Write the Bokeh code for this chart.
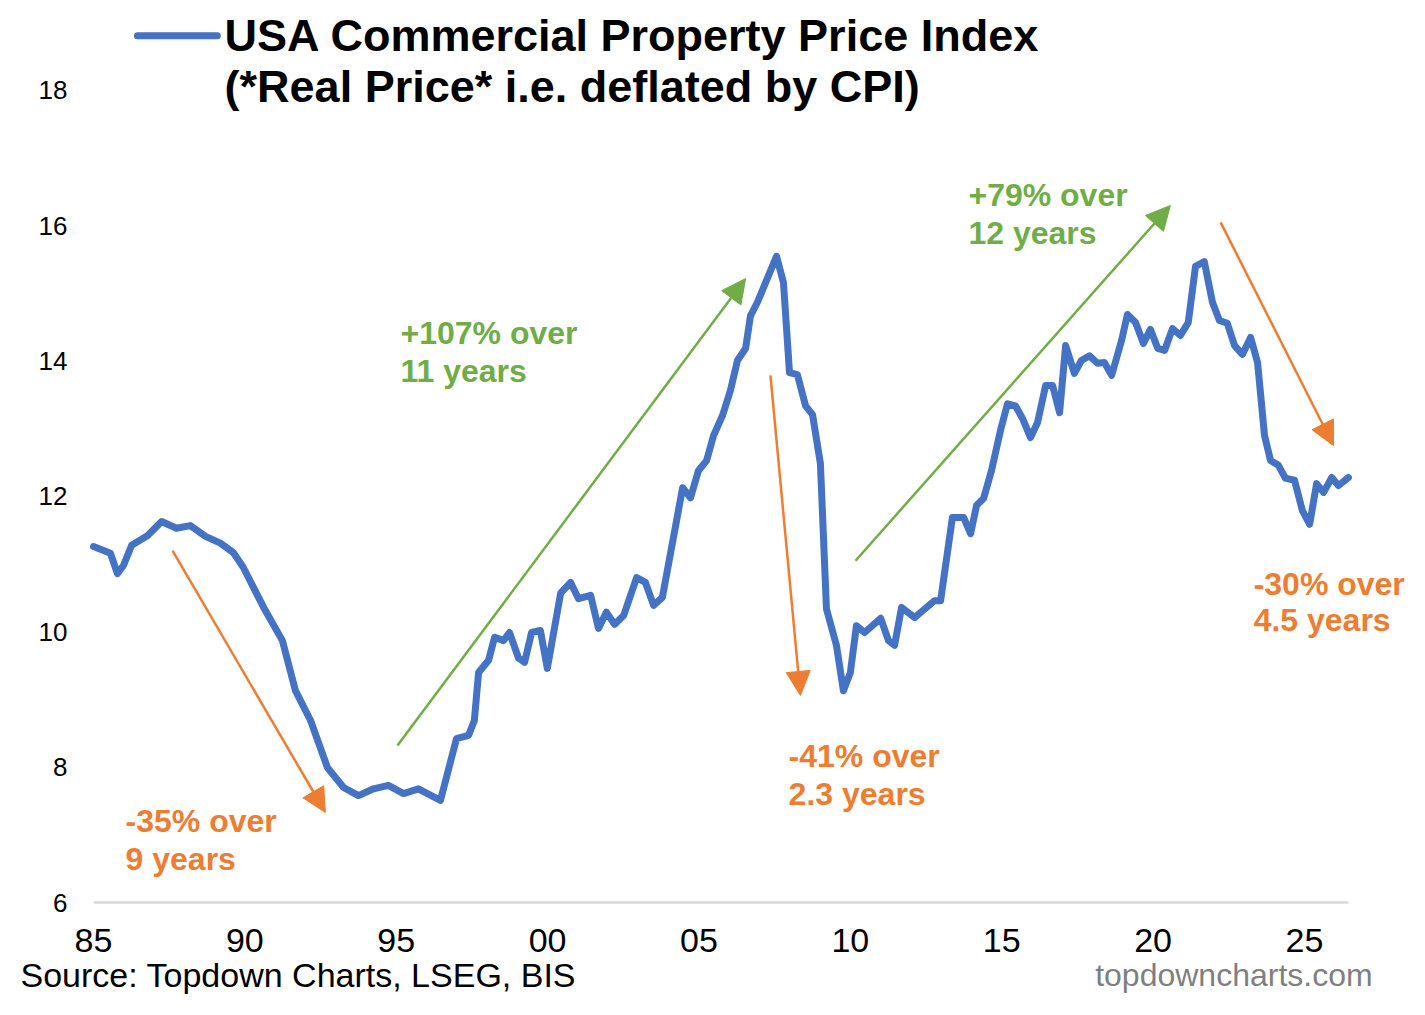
from bokeh.plotting import figure
from bokeh.models import (Range1d, FixedTicker, Label, Arrow, NormalHead, ColumnDataSource)
from bokeh.embed import file_html
from bokeh.resources import INLINE

# ---------------- data ----------------
years = [1985.00, 1985.56, 1985.79, 1985.99, 1986.26, 1986.78, 1987.25, 1987.74, 1988.20, 1988.70,
         1989.19, 1989.62, 1989.95, 1990.62, 1991.24, 1991.67, 1992.17, 1992.73, 1993.26, 1993.75,
         1994.25, 1994.74, 1995.24, 1995.73, 1996.46, 1996.99, 1997.39, 1997.58, 1997.72, 1998.05,
         1998.25, 1998.54, 1998.74, 1999.04, 1999.24, 1999.47, 1999.76, 1999.99, 2000.43, 2000.76,
         2001.02, 2001.42, 2001.68, 2001.94, 2002.21, 2002.51, 2002.94, 2003.23, 2003.50, 2003.79,
         2004.46, 2004.72, 2004.98, 2005.25, 2005.48, 2005.78, 2006.04, 2006.27, 2006.54, 2006.70,
         2006.93, 2007.56, 2007.79, 2007.99, 2008.25, 2008.52, 2008.75, 2009.01, 2009.21, 2009.54,
         2009.77, 2010.00, 2010.20, 2010.47, 2011.00, 2011.26, 2011.46, 2011.69, 2012.12, 2012.78,
         2012.98, 2013.37, 2013.74, 2013.97, 2014.17, 2014.40, 2014.66, 2014.96, 2015.19, 2015.45,
         2015.69, 2015.95, 2016.18, 2016.45, 2016.68, 2016.91, 2017.11, 2017.40, 2017.63, 2017.90,
         2018.16, 2018.39, 2018.63, 2018.96, 2019.15, 2019.42, 2019.68, 2019.91, 2020.15, 2020.38,
         2020.64, 2020.90, 2021.16, 2021.40, 2021.69, 2021.96, 2022.19, 2022.45, 2022.69, 2022.95,
         2023.22, 2023.45, 2023.68, 2023.88, 2024.14, 2024.37, 2024.67, 2024.93, 2025.17, 2025.40,
         2025.63, 2025.90, 2026.12, 2026.45]
real_price = [11.26, 11.16, 10.86, 10.98, 11.28, 11.42, 11.63, 11.53, 11.57, 11.41,
              11.31, 11.17, 10.95, 10.36, 9.87, 9.13, 8.69, 7.99, 7.70, 7.58,
              7.68, 7.73, 7.61, 7.68, 7.51, 8.42, 8.47, 8.69, 9.40, 9.58,
              9.92, 9.87, 9.99, 9.61, 9.55, 9.99, 10.02, 9.46, 10.57, 10.73,
              10.49, 10.54, 10.05, 10.29, 10.11, 10.24, 10.80, 10.73, 10.39, 10.51,
              12.13, 11.98, 12.38, 12.53, 12.90, 13.20, 13.57, 14.01, 14.19, 14.67,
              14.87, 15.55, 15.16, 13.83, 13.80, 13.34, 13.21, 12.49, 10.34, 9.80,
              9.13, 9.40, 10.09, 9.99, 10.20, 9.87, 9.80, 10.36, 10.21, 10.46,
              10.46, 11.69, 11.69, 11.45, 11.87, 11.97, 12.38, 12.98, 13.37, 13.34,
              13.15, 12.87, 13.09, 13.64, 13.64, 13.24, 14.23, 13.82, 14.01, 14.08,
              13.97, 13.98, 13.79, 14.31, 14.69, 14.57, 14.26, 14.47, 14.19, 14.16,
              14.48, 14.38, 14.57, 15.40, 15.47, 14.87, 14.60, 14.56, 14.23, 14.10,
              14.35, 13.98, 12.90, 12.53, 12.46, 12.27, 12.24, 11.79, 11.59, 12.19,
              12.06, 12.28, 12.16, 12.28]

x_tick_years = [1985, 1990, 1995, 2000, 2005, 2010, 2015, 2020, 2025]
x_tick_labels = ["85", "90", "95", "00", "05", "10", "15", "20", "25"]
y_ticks = [6, 8, 10, 12, 14, 16, 18]

title_line1 = "USA Commercial Property Price Index"
title_line2 = "(*Real Price* i.e. deflated by CPI)"
source_text = "Source: Topdown Charts, LSEG, BIS"
site_text = "topdowncharts.com"

ORANGE = "#ED7D31"
GREEN = "#70AD47"
BLUE = "#4472C4"
# annotations: (line1, line2, colour, text x, text y1, text y2, arrow x0, y0, x1, y1)
annotations = [
    ("-35% over", "9 years", ORANGE, 1986.06, 7.21, 6.65, 1987.61, 11.20, 1992.66, 7.33),
    ("+107% over", "11 years", GREEN, 1995.14, 14.41, 13.85, 1995.04, 8.32, 2006.54, 15.22),
    ("-41% over", "2.3 years", ORANGE, 2007.96, 8.16, 7.61, 2007.36, 13.79, 2008.35, 9.06),
    ("+79% over", "12 years", GREEN, 2013.90, 16.45, 15.89, 2010.17, 11.05, 2020.57, 16.30),
    ("-30% over", "4.5 years", ORANGE, 2023.32, 10.71, 10.17, 2022.23, 16.05, 2025.96, 12.75),
]

FONT = "Liberation Sans"

# ---------------- geometry ----------------
W, H = 1409, 999
X0_PX, Y0_PX = 93, 902          # pixel position of (1985, 6)
PX_PER_YEAR = 30.275
PX_PER_UNIT = 67.67

x_start = x_tick_years[0] - X0_PX / PX_PER_YEAR
x_end = x_tick_years[0] + (W - X0_PX) / PX_PER_YEAR
y_start = y_ticks[0] - (H - Y0_PX) / PX_PER_UNIT
y_end = y_ticks[0] + Y0_PX / PX_PER_UNIT

p = figure(width=W, height=H, output_backend="svg", toolbar_location=None,
           x_range=Range1d(x_start, x_end), y_range=Range1d(y_start, y_end),
           min_border_left=0, min_border_right=0, min_border_top=0, min_border_bottom=0)
p.outline_line_color = None
p.xgrid.visible = False
p.ygrid.visible = False
p.background_fill_color = "white"
p.border_fill_color = "white"

# x axis, fixed at y = 6 (axis line drawn separately so it stops with the data)
xa = p.xaxis[0]
xa.fixed_location = y_ticks[0]
xa.ticker = FixedTicker(ticks=x_tick_years)
xa.major_label_overrides = {y: l for y, l in zip(x_tick_years, x_tick_labels)}
xa.axis_line_color = None
xa.major_tick_line_color = None
xa.minor_tick_line_color = None
xa.major_tick_out = 0
xa.major_tick_in = 0
xa.major_label_standoff = 26
xa.major_label_text_font = FONT
xa.major_label_text_font_size = "34px"
xa.major_label_text_color = "#000000"

# y axis, fixed at x = 1985
ya = p.yaxis[0]
ya.fixed_location = x_tick_years[0]
ya.ticker = FixedTicker(ticks=y_ticks)
ya.axis_line_color = None
ya.major_tick_line_color = None
ya.minor_tick_line_color = None
ya.major_tick_out = 0
ya.major_tick_in = 0
ya.major_label_standoff = 26
ya.major_label_text_font = FONT
ya.major_label_text_font_size = "26px"
ya.major_label_text_color = "#000000"

# baseline (horizontal axis line) spanning the data
p.line([years[0], years[-1]], [y_ticks[0], y_ticks[0]], line_color="#D9D9D9", line_width=2.5)

# main line
src = ColumnDataSource(dict(x=years, y=real_price))
p.line("x", "y", source=src, line_color=BLUE, line_width=7, line_join="round", line_cap="round")

# legend swatch + title
p.line([1986.45, 1989.09], [18.81, 18.81], line_color=BLUE, line_width=7, line_cap="round")
for txt, yy in [(title_line1, 18.81), (title_line2, 18.06)]:
    p.add_layout(Label(x=1989.33, y=yy, text=txt, text_font=FONT, text_font_size="45px",
                       text_font_style="bold", text_color="#000000",
                       text_align="left", text_baseline="middle"))

# annotations
for l1, l2, col, tx, ty1, ty2, ax0, ay0, ax1, ay1 in annotations:
    p.add_layout(Arrow(x_start=ax0, y_start=ay0, x_end=ax1, y_end=ay1,
                       line_color=col, line_width=2.5,
                       end=NormalHead(size=24, fill_color=col, line_color=col)))
    for txt, yy in [(l1, ty1), (l2, ty2)]:
        p.add_layout(Label(x=tx, y=yy, text=txt, text_font=FONT, text_font_size="32px",
                           text_font_style="bold", text_color=col,
                           text_align="left", text_baseline="middle"))

# footer
p.add_layout(Label(x=1982.59, y=4.93, text=source_text, text_font=FONT, text_font_size="34px",
                   text_color="#000000", text_align="left", text_baseline="alphabetic"))
p.add_layout(Label(x=2027.25, y=4.93, text=site_text, text_font=FONT, text_font_size="32px",
                   text_color="#7F7F7F", text_align="right", text_baseline="alphabetic"))

open("out.html", "w").write(file_html(p, INLINE))
